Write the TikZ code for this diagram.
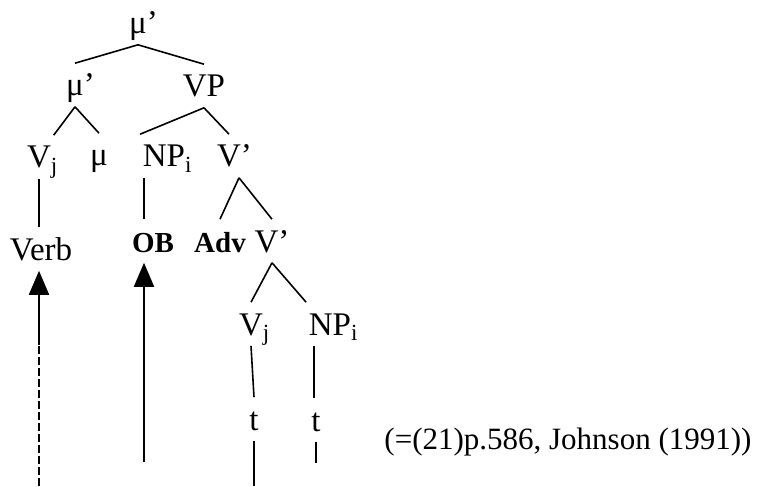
\documentclass[tikz,border=0pt]{standalone}
\usepackage{fontspec}
\setmainfont{Liberation Serif}
\usetikzlibrary{arrows.meta}

\begin{document}
\begin{tikzpicture}[x=0.5pt,
                    y=-0.5pt,
                    line width=0.8pt,
                    cat/.style={anchor=base, inner xsep=1pt, inner ysep=5pt,
                                text height=11pt, text depth=0pt,
                                font=\fontsize{16.5}{19}\selectfont},
                    bcat/.style={cat, font=\fontsize{14.5}{17}\selectfont\bfseries},
                    mov/.style={-{Triangle[length=12pt,width=10pt]}, line width=0.9pt}
                    ]
  \useasboundingbox (0,0) rectangle (758,486);
  % tree
  \node[cat] (mu1) at (138,34) {μ\rlap{’}};
  \node[cat] (mu2) at (75,96) {μ\rlap{’}};
  \node[cat] (vp) at (204,97) {VP};
  \node[cat] (vj) at (39,168) {V\rlap{\textsubscript{j}}};
  \node[cat] (mu) at (99,166) {μ};
  \node[cat] (np) at (164,167) {NP\rlap{\textsubscript{i}}};
  \node[cat] (vbar) at (229,167) {V\rlap{’}};
  \node[cat] (verb) at (41,260) {Verb};
  \node[bcat] (ob) at (153,252) {OB};
  \node[bcat] (adv) at (220,252) {Adv};
  \node[cat] (vbar2) at (272,252) {V’};
  \node[cat] (vj2) at (251,335) {V\rlap{\textsubscript{j}}};
  \node[cat] (np2) at (330,335) {NP\rlap{\textsubscript{i}}};
  \node[cat] (t1) at (254,430) {t};
  \node[cat] (t2) at (316,431) {t};
  \node[anchor=base, font=\fontsize{15.5}{18}\selectfont] (cite) at (568,449) {(=(21)p.586, Johnson (1991))};
  \draw (mu1.south) -- (mu2.north);
  \draw (mu1.south) -- (vp.north);
  \draw (mu2.south) -- (vj.north east);
  \draw (mu2.south) -- (mu.north);
  \draw (vp.south) -- (np.north west);
  \draw (vp.south) -- (vbar.north);
  \draw (vj.south) -- (vj.south |- verb.north);
  \draw ([xshift=2pt]np.south west) -- ([xshift=2pt]np.south west |- ob.north);
  \draw ([xshift=5pt]vbar.south) -- (adv.north);
  \draw ([xshift=5pt]vbar.south) -- (vbar2.north);
  \draw (vbar2.south) -- (vj2.north);
  \draw (vbar2.south) -- (np2.north west);
  \draw (vj2.south) -- (t1.north);
  \draw ([xshift=4pt]np2.south west) -- ([xshift=4pt]np2.south west |- t2.north);
  % traces and movement
  \coordinate (t1end) at (253,486);
  \coordinate (t2end) at (315,463);
  \coordinate (vbot) at (39,486);
  \coordinate (vmid) at (39,345);
  \coordinate (obot) at (144,462);
  \draw (t1.south) -- (t1.south |- t1end);
  \draw (t2.south) -- (t2.south |- t2end);
  \draw[dash pattern=on 4pt off 1.5pt] (vbot) -- (vmid);
  \draw[mov] (vmid) -- (vmid |- verb.south);
  \draw[mov] (obot) -- (obot |- ob.south);
\end{tikzpicture}
\end{document}
